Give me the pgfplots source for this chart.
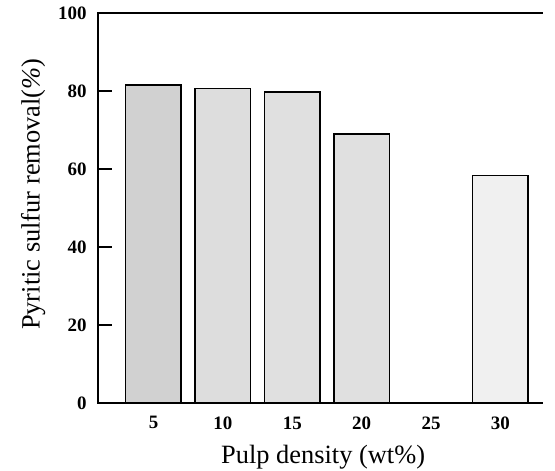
\documentclass[border=0pt]{standalone}
\usepackage{pgfplots}
\pgfplotsset{compat=1.18}
\usepackage{fontspec}
\setmainfont{Liberation Serif}
\begin{document}
\begin{tikzpicture}
\begin{axis}[
  at={(0bp,0bp)}, anchor=south west,
  scale only axis, width=444bp, height=390bp,
  xmin=1, xmax=33, ymin=0, ymax=100,
  axis line style={draw=none},
  xtick=\empty, ytick={0,20,40,60,80,100},
  extra x ticks={5,10,15,20,25,30},
  extra x tick style={major tick length=0pt},
  ytick pos=left,
  tick align=inside, major tick length=14bp,
  tick style={black, line width=1.5bp},
  tick label style={font=\fontsize{19}{19}\selectfont\bfseries},
  /pgf/number format/assume math mode=true,
  xticklabel style={yshift=-10bp},
  yticklabel style={xshift=-8bp},
  xlabel={Pulp density (wt\%)},
  ylabel={Pyritic sulfur removal(\textit{\%})},
  label style={font=\fontsize{26.5}{26.5}\selectfont},
  xlabel style={at={(axis description cs:0.507,0)}, anchor=center, yshift=-54bp},
  ylabel style={at={(axis description cs:-0.146,0.535)}, anchor=center},
  clip=false,
]
% pulp density 5, 10, 15, 20 and 30 wt%
\addplot[ybar, bar width=4, draw=black, line width=1.5bp, fill=gray!36] coordinates {(5,81.5)};
\addplot[ybar, bar width=4, draw=black, line width=1.5bp, fill=gray!27] coordinates {(10,80.7)};
\addplot[ybar, bar width=4, draw=black, line width=1.5bp, fill=gray!24] coordinates {(15,79.7)};
\addplot[ybar, bar width=4, draw=black, line width=1.5bp, fill=gray!24] coordinates {(20,69)};
\addplot[ybar, bar width=4, draw=black, line width=1.5bp, fill=gray!12] coordinates {(30,58.3)};
% inward tick strokes on the left spine (about 14bp long)
\draw[line width=1.5bp] (axis cs:1,20) -- (axis cs:2.01,20);
\draw[line width=1.5bp] (axis cs:1,40) -- (axis cs:2.01,40);
\draw[line width=1.5bp] (axis cs:1,60) -- (axis cs:2.01,60);
\draw[line width=1.5bp] (axis cs:1,80) -- (axis cs:2.01,80);
% open frame: top, left and bottom lines, no right spine
\draw[line width=1.3bp, line cap=rect]
  (rel axis cs:1,1) -- (rel axis cs:0,1) -- (rel axis cs:0,0) -- (rel axis cs:1,0);
\end{axis}
\pgfresetboundingbox
\path[use as bounding box] (-98bp,-68bp) rectangle (457bp,403bp);
\end{tikzpicture}
\end{document}
